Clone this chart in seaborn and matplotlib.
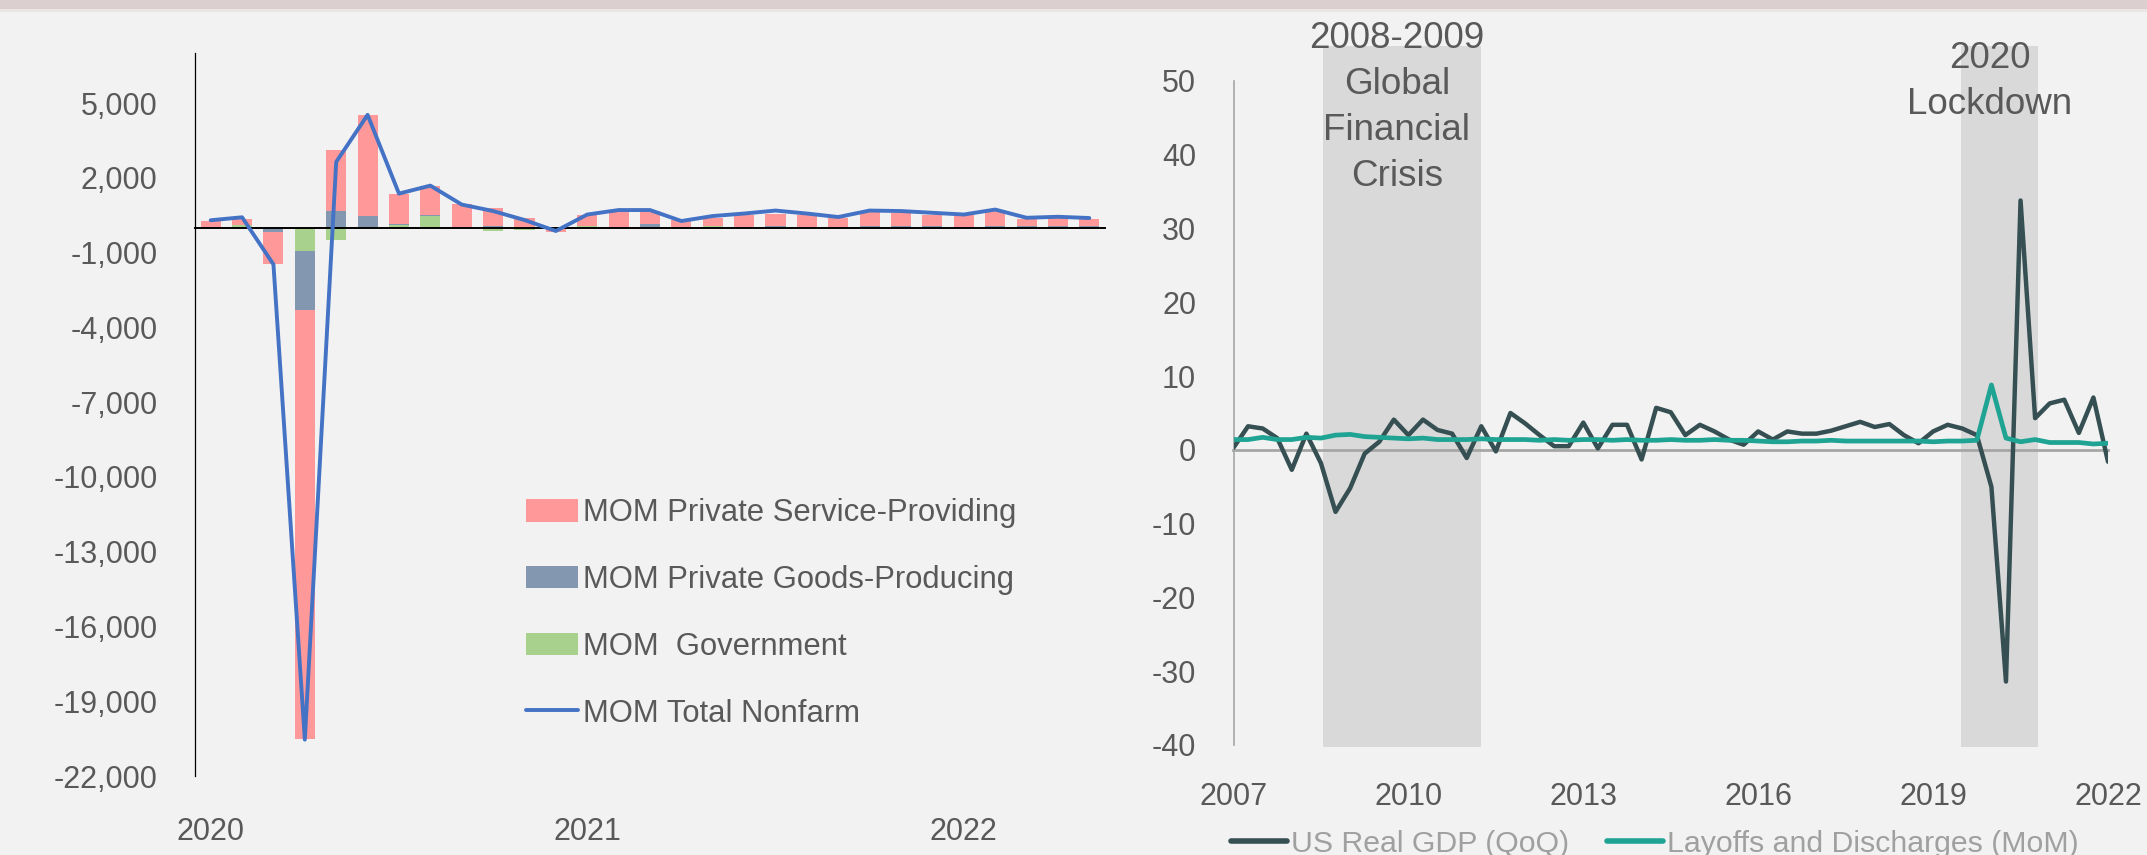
import numpy as np
import matplotlib
matplotlib.use("Agg")
import matplotlib.pyplot as plt
import matplotlib.transforms as mtransforms
from matplotlib.patches import Patch, Rectangle
from matplotlib.lines import Line2D
import seaborn as sns

# ---------------- data: left chart (monthly, Jan 2020 - May 2022, thousands) ----------------
service = [235, 220, -1310, -17230, 2440, 4040, 1210, 1160, 920, 730, 400, -180,
           440, 650, 530, 300, 330, 470, 480, 490, 360, 610, 510, 440,
           470, 610, 270, 410, 310]
goods = [15, 30, -160, -2370, 690, 470, 40, 40, 40, 70, 0, 40,
         0, 20, 130, -20, 0, 0, 80, 40, 40, 50, 70, 80,
         30, 80, 70, 70, 50]
government = [15, 100, 0, -930, -490, 0, 120, 470, -20, -150, -80, 0,
              90, 0, 30, 0, 70, 40, 0, 0, 0, 0, 0, 0,
              0, 0, 0, 0, 10]
total_nonfarm = [300, 420, -1470, -20540, 2640, 4530, 1370, 1690, 930, 670, 310, -130,
                 530, 710, 710, 270, 470, 570, 690, 570, 430, 690, 670, 600,
                 530, 730, 400, 440, 390]
left_year_labels = ["2020", "2021", "2022"]
left_yticks = [5000, 2000, -1000, -4000, -7000, -10000, -13000, -16000, -19000, -22000]
left_legend_labels = ["MOM Private Service-Providing", "MOM Private Goods-Producing",
                      "MOM  Government", "MOM Total Nonfarm"]

# ---------------- data: right chart (quarterly, 2007Q1 - 2022Q1, %) ----------------
gdp_qoq = [0.3, 3.2, 2.9, 1.6, -2.7, 2.2, -1.8, -8.4, -5.2, -0.5, 1.1, 4.1,
           2.0, 4.1, 2.7, 2.2, -1.1, 3.2, -0.2, 5.0, 3.6, 2.0, 0.5, 0.5,
           3.7, 0.2, 3.4, 3.4, -1.3, 5.7, 5.1, 2.0, 3.4, 2.5, 1.4, 0.7,
           2.5, 1.4, 2.5, 2.2, 2.2, 2.6, 3.2, 3.8, 3.1, 3.5, 2.0, 0.9,
           2.5, 3.4, 2.9, 2.0, -5.0, -31.4, 33.8, 4.3, 6.3, 6.8, 2.3, 7.1, -1.6]
layoffs_mom = [1.4, 1.4, 1.7, 1.4, 1.4, 1.7, 1.6, 2.0, 2.1, 1.8, 1.7, 1.6,
               1.5, 1.6, 1.4, 1.4, 1.4, 1.5, 1.4, 1.4, 1.4, 1.3, 1.4, 1.3,
               1.4, 1.4, 1.3, 1.4, 1.3, 1.3, 1.4, 1.3, 1.3, 1.4, 1.3, 1.3,
               1.2, 1.1, 1.1, 1.2, 1.2, 1.3, 1.2, 1.2, 1.2, 1.2, 1.2, 1.2,
               1.1, 1.2, 1.2, 1.3, 8.8, 1.6, 1.1, 1.4, 1.0, 1.0, 1.0, 0.8, 0.9]
right_year_labels = [2007, 2010, 2013, 2016, 2019, 2022]
right_yticks = [50, 40, 30, 20, 10, 0, -10, -20, -30, -40]
shade_start = [2008.53, 2019.48]
shade_end = [2011.24, 2020.80]
shade_low, shade_high = -40.3, 54.8
right_legend_labels = ["US Real GDP (QoQ)", "Layoffs and Discharges (MoM)"]
annotations = [["2008-2009", "Global", "Financial", "Crisis"], ["2020", "Lockdown"]]

# ---------------- style ----------------
sns.set_theme(style="white")
plt.rcParams["font.family"] = ["Liberation Sans", "DejaVu Sans"]

W, H = 2147, 855
BG = "#F2F2F2"
TXT = "#595959"
C_SERV, C_GOODS, C_GOV, C_LINE = "#FF9999", "#8497B0", "#A9D18E", "#4472C4"
C_GDP, C_LAY = "#354F52", "#1FA393"
FS = 22
FS_LEG = 22.3

fig = plt.figure(figsize=(W / 100, H / 100), dpi=100, facecolor=BG)
# top band
fig.patches.append(Rectangle((0, 1 - 9 / H), 1, 9 / H, transform=fig.transFigure,
                             facecolor="#DCCFCF", edgecolor="none", zorder=0))
fig.patches.append(Rectangle((0, 1 - 12 / H), 1, 3 / H, transform=fig.transFigure,
                             facecolor="#EAE6E6", edgecolor="none", zorder=0))

# ---------------- left chart ----------------
axL = fig.add_axes([195 / W, (H - 776) / H, 910 / W, (776 - 53.3) / H])
axL.set_facecolor("none")
x = np.arange(len(service))
pos_b = np.zeros(len(x))
neg_b = np.zeros(len(x))
for vals, col in [(government, C_GOV), (goods, C_GOODS), (service, C_SERV)]:
    v = np.array(vals, dtype=float)
    bottom = np.where(v >= 0, pos_b, neg_b)
    axL.bar(x, v, bottom=bottom, width=0.64, color=col, linewidth=0, zorder=1)
    pos_b = pos_b + np.where(v > 0, v, 0)
    neg_b = neg_b + np.where(v < 0, v, 0)
sns.lineplot(x=x, y=total_nonfarm, ax=axL, color=C_LINE, linewidth=2.8, legend=False, zorder=3)

axL.set_xlim(-0.5, len(x) - 0.5)
axL.set_ylim(-22000, 7000)
axL.set_yticks(left_yticks)
axL.set_yticklabels([f"{v:,}" for v in left_yticks])
axL.tick_params(axis="y", length=0, pad=27, labelsize=FS, labelcolor=TXT)
year_starts = [i for i in range(len(x)) if i % 12 == 0]
axL.set_xticks([s - 0.5 for s in year_starts[1:]])
axL.set_xticklabels([])
axL.tick_params(axis="x", length=8.6, width=1.0, color="black", direction="out")
for s in ["top", "right"]:
    axL.spines[s].set_visible(False)
axL.spines["left"].set_color("black")
axL.spines["left"].set_linewidth(0.9)
axL.spines["bottom"].set_position(("data", 0))
axL.spines["bottom"].set_color("black")
axL.spines["bottom"].set_linewidth(1.4)
axL.spines["bottom"].set_zorder(2.5)
trL = mtransforms.blended_transform_factory(axL.transData, axL.transAxes)
for lbl, pos in zip(left_year_labels, year_starts):
    axL.text(pos, -0.0775, lbl, transform=trL, ha="center", va="center",
             fontsize=FS, color=TXT)

handlesL = [Patch(facecolor=C_SERV, edgecolor="none"), Patch(facecolor=C_GOODS, edgecolor="none"),
            Patch(facecolor=C_GOV, edgecolor="none"), Line2D([], [], color=C_LINE, lw=2.8)]
fig.legend(handlesL, left_legend_labels, loc="upper left",
           bbox_to_anchor=(526 / W, 1 - 498 / H), bbox_transform=fig.transFigure,
           frameon=False, fontsize=FS_LEG, handlelength=1.68, handleheight=0.75,
           handletextpad=0.17, labelspacing=1.19, borderpad=0, borderaxespad=0,
           labelcolor=TXT)

# ---------------- right chart ----------------
axR = fig.add_axes([1233.5 / W, (H - 745) / H, 874.5 / W, 664 / H])
axR.set_facecolor("none")
qx = 2007 + np.arange(len(gdp_qoq)) / 4.0
for s, e in zip(shade_start, shade_end):
    axR.add_patch(Rectangle((s, shade_low), e - s, shade_high - shade_low,
                            facecolor="#D9D9D9", edgecolor="none", clip_on=False, zorder=0))
sns.lineplot(x=qx, y=gdp_qoq, ax=axR, color=C_GDP, linewidth=3.2, legend=False, zorder=3)
sns.lineplot(x=qx, y=layoffs_mom, ax=axR, color=C_LAY, linewidth=3.4, legend=False, zorder=4)
axR.set_xlim(right_year_labels[0], right_year_labels[-1])
axR.set_ylim(-40, 50)
axR.set_yticks(right_yticks)
axR.set_yticklabels([str(v) for v in right_yticks])
axR.tick_params(axis="y", length=0, pad=27, labelsize=FS, labelcolor=TXT)
axR.set_xticks(right_year_labels[1:-1])
axR.set_xticklabels([])
axR.tick_params(axis="x", length=8.6, width=1.2, color="#A6A6A6", direction="out")
for s in ["top", "right"]:
    axR.spines[s].set_visible(False)
axR.spines["left"].set_color("#A6A6A6")
axR.spines["left"].set_linewidth(1.2)
axR.spines["bottom"].set_position(("data", 0))
axR.spines["bottom"].set_color("#A6A6A6")
axR.spines["bottom"].set_linewidth(2.0)
trR = mtransforms.blended_transform_factory(axR.transData, axR.transAxes)
for yr in right_year_labels:
    axR.text(yr, -0.0783, str(yr), transform=trR, ha="center", va="center",
             fontsize=FS, color=TXT)

# annotations over shaded periods
ann_pos = [(1397, 39), (1990, 58)]
for lines, (px, py) in zip(annotations, ann_pos):
    for k, line in enumerate(lines):
        fig.text(px / W, 1 - (py + 46 * k) / H, line, ha="center", va="center",
                 fontsize=26.5, color=TXT)

handlesR = [Line2D([], [], color=C_GDP, lw=4.0, solid_capstyle="round"),
            Line2D([], [], color=C_LAY, lw=4.0, solid_capstyle="round")]
fig.legend(handlesR, right_legend_labels, loc="center left",
           bbox_to_anchor=(1231 / W, 11 / H), bbox_transform=fig.transFigure,
           ncol=2, frameon=False, fontsize=21.8, handlelength=1.85, handletextpad=0.13,
           columnspacing=1.25, borderpad=0, borderaxespad=0, labelcolor="#A0A0A0")

fig.savefig("out.png", dpi=100, facecolor=BG)
